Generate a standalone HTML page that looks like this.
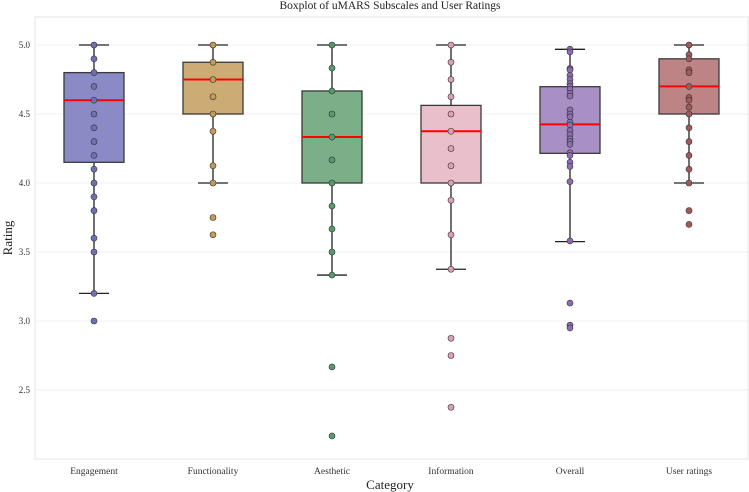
<!DOCTYPE html>
<html><head><meta charset="utf-8"><style>
body{margin:0;background:#fff}
svg{display:block;font-family:"Liberation Serif",serif}
</style></head><body>
<svg id="c" width="749" height="492" xmlns="http://www.w3.org/2000/svg"></svg>
<script>
const categories=["Engagement","Functionality","Aesthetic","Information","Overall","User ratings"];
const q1=[4.15,4.5,4.0,4.0,4.215,4.5];
const medians=[4.6,4.75,4.333,4.375,4.425,4.7];
const q3=[4.8,4.875,4.667,4.5625,4.698,4.9];
const whiskLow=[3.2,4.0,3.333,3.375,3.575,4.0];
const whiskHigh=[5.0,5.0,5.0,5.0,4.969,5.0];
const pointsEngagement=[5.0,4.9,4.8,4.7,4.6,4.5,4.4,4.3,4.2,4.1,4.0,3.9,3.8,3.6,3.5,3.2,3.0];
const pointsFunctionality=[5,4.875,4.75,4.625,4.5,4.375,4.125,4.0,3.75,3.625];
const pointsAesthetic=[5,4.833,4.667,4.5,4.333,4.167,4.0,3.833,3.667,3.5,3.333,2.667,2.167];
const pointsInformation=[5,4.875,4.75,4.625,4.5,4.375,4.25,4.125,4.0,3.875,3.625,3.375,2.875,2.75,2.375];
const pointsOverall=[4.97,4.95,4.83,4.82,4.78,4.75,4.72,4.70,4.68,4.65,4.63,4.53,4.5,4.48,4.44,4.42,4.38,4.35,4.32,4.30,4.28,4.22,4.20,4.15,4.12,4.01,3.58,3.13,2.97,2.95];
const pointsUser=[5,4.93,4.9,4.82,4.8,4.7,4.62,4.6,4.55,4.5,4.4,4.3,4.2,4.1,4.0,3.8,3.7];
const yTicks=[2.5,3.0,3.5,4.0,4.5,5.0];
const yTickLabels=["2.5","3.0","3.5","4.0","4.5","5.0"];
const allPoints=[pointsEngagement,pointsFunctionality,pointsAesthetic,pointsInformation,pointsOverall,pointsUser];
const fills=["#8a8ac6","#ccab74","#7aaf88","#e8bfcb","#a890c4","#bd8485"];
const ptFills=["#6f6fb4","#c49a5a","#559a6c","#dea0b0","#8c6cb4","#a05a5c"];
const L=35,R=748,T=17,B=459,yMin=2.0,yMax=5.203;
const y=v=>B-(v-yMin)/(yMax-yMin)*(B-T);
const x=i=>94+i*119;
const svg=document.getElementById('c');
const NS="http://www.w3.org/2000/svg";
function mk(tag,attrs,parent){const e=document.createElementNS(NS,tag);for(const k in attrs)e.setAttribute(k,attrs[k]);(parent||svg).appendChild(e);return e;}
let e=mk('rect',{x:L,y:T,width:R-L,height:B-T,fill:'#fff',stroke:'#e6e6e6','stroke-width':1});

yTicks.forEach((t,i)=>{
 let g=mk('line',{x1:L,x2:R,y1:y(t),y2:y(t),stroke:'#f0f0f0','stroke-width':1});
 
 let tx=mk('text',{x:L-5,y:y(t)+3,'text-anchor':'end','font-size':9,fill:'#333'});tx.textContent=yTickLabels[i];
 
});
categories.forEach((c,i)=>{
 const cx=x(i),w=30;
 let g=mk('g',{});
 mk('line',{x1:cx,x2:cx,y1:y(whiskLow[i]),y2:y(q1[i]),stroke:'#222','stroke-width':1.3},g);
 mk('line',{x1:cx,x2:cx,y1:y(q3[i]),y2:y(whiskHigh[i]),stroke:'#222','stroke-width':1.3},g);
 mk('line',{x1:cx-15,x2:cx+15,y1:y(whiskLow[i]),y2:y(whiskLow[i]),stroke:'#222','stroke-width':1.3},g);
 mk('line',{x1:cx-15,x2:cx+15,y1:y(whiskHigh[i]),y2:y(whiskHigh[i]),stroke:'#222','stroke-width':1.3},g);
 mk('rect',{x:cx-w,y:y(q3[i]),width:2*w,height:y(q1[i])-y(q3[i]),fill:fills[i],stroke:'#3a3a3a','stroke-width':1.3},g);
 mk('line',{x1:cx-w,x2:cx+w,y1:y(medians[i]),y2:y(medians[i]),stroke:'#ff0000','stroke-width':2},g);
 allPoints[i].forEach(v=>{
  let p=mk('circle',{cx:cx,cy:y(v),r:3,fill:ptFills[i],stroke:'#333','stroke-width':0.6});
  
 });
 let tx=mk('text',{x:cx,y:474,'text-anchor':'middle','font-size':9.5,fill:'#333'});tx.textContent=c;
 
});
let t=mk('text',{x:390,y:9,'text-anchor':'middle','font-size':11.5,fill:'#222'});t.textContent='Boxplot of uMARS Subscales and User Ratings';

t=mk('text',{x:390,y:489,'text-anchor':'middle','font-size':13,fill:'#222'});t.textContent='Category';

t=mk('text',{x:12,y:238,'text-anchor':'middle','font-size':13,fill:'#222',transform:'rotate(-90 12 238)'});t.textContent='Rating';

</script>
</body></html>
